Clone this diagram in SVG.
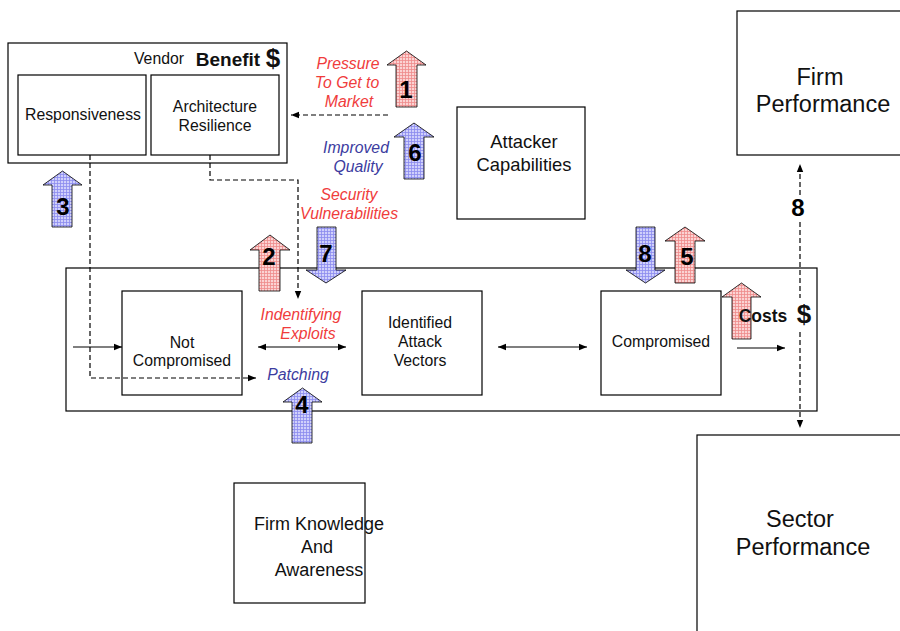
<svg xmlns="http://www.w3.org/2000/svg" width="900" height="631" viewBox="0 0 900 631">
  <defs>
    <pattern id="gridRed" width="3" height="3" patternUnits="userSpaceOnUse">
      <rect width="3" height="3" fill="#fbd3d3"/>
      <path d="M0 0.5H3M0.5 0V3" stroke="#ef8c8c" stroke-width="0.8"/>
    </pattern>
    <pattern id="gridBlue" width="3" height="3" patternUnits="userSpaceOnUse">
      <rect width="3" height="3" fill="#d0d0fb"/>
      <path d="M0 0.5H3M0.5 0V3" stroke="#8c8cef" stroke-width="0.8"/>
    </pattern>
    <marker id="ah" viewBox="0 0 10 10" refX="10" refY="5" markerWidth="8" markerHeight="8" markerUnits="userSpaceOnUse" orient="auto-start-reverse">
      <path d="M0 1L10 5L0 9Z" fill="#000"/>
    </marker>
  </defs>
  <style>
    .box { fill: #fff; stroke: #000; stroke-width: 1.2; }
    .frame { fill: none; stroke: #000; stroke-width: 1.2; }
    .t { font-family: "Liberation Sans", Arial, sans-serif; fill: #111; text-anchor: middle; }
    .red { font-family: "Liberation Sans", Arial, sans-serif; fill: #f03c3c; font-style: italic; font-size: 15.8px; text-anchor: middle; }
    .blue { font-family: "Liberation Sans", Arial, sans-serif; fill: #3c3ca0; font-style: italic; font-size: 15.8px; text-anchor: middle; }
    .num { font-family: "Liberation Sans", Arial, sans-serif; font-weight: bold; font-size: 24px; fill: #000; text-anchor: middle; }
    .ra { fill: url(#gridRed); stroke: #000; stroke-width: 0.8; }
    .ba { fill: url(#gridBlue); stroke: #000; stroke-width: 0.8; }
    .solid { stroke: #000; stroke-width: 1.2; fill: none; }
    .dash { stroke: #000; stroke-width: 1.2; fill: none; stroke-dasharray: 5 3; }
  </style>

  <!-- process frame -->
  <rect id="process-frame" class="frame" x="66" y="268" width="751" height="143"/>

  <g id="vendor">
    <rect class="box" x="8" y="43" width="279" height="120"/>
    <text class="t" x="159" y="64" font-size="15.8">Vendor</text>
    <text class="t" x="228" y="66" font-size="19" font-weight="bold">Benefit</text>
    <text class="t" x="273" y="67" font-size="26" font-weight="bold">$</text>
  </g>
  <g id="responsiveness">
    <rect class="box" x="18" y="75" width="128" height="80"/>
    <text class="t" x="83" y="120" font-size="15.8">Responsiveness</text>
  </g>
  <g id="architecture">
    <rect class="box" x="151" y="75" width="128" height="80"/>
    <text class="t" x="215" y="112" font-size="15.8">Architecture</text>
    <text class="t" x="215" y="131" font-size="15.8">Resilience</text>
  </g>
  <g id="attacker">
    <rect class="box" x="457" y="107" width="128" height="112"/>
    <text class="t" x="524" y="148" font-size="18.4">Attacker</text>
    <text class="t" x="524" y="171" font-size="18.4">Capabilities</text>
  </g>
  <g id="firm-performance">
    <rect class="box" x="737" y="11" width="170" height="144"/>
    <text class="t" x="820" y="85" font-size="23.5">Firm</text>
    <text class="t" x="823" y="112" font-size="23.5">Performance</text>
  </g>
  <g id="not-compromised">
    <rect class="box" x="122" y="291" width="120" height="104"/>
    <text class="t" x="182" y="348" font-size="15.8">Not</text>
    <text class="t" x="182" y="366" font-size="15.8">Compromised</text>
  </g>
  <g id="attack-vectors">
    <rect class="box" x="362" y="291" width="120" height="104"/>
    <text class="t" x="420" y="328" font-size="15.8">Identified</text>
    <text class="t" x="420" y="347" font-size="15.8">Attack</text>
    <text class="t" x="420" y="366" font-size="15.8">Vectors</text>
  </g>
  <g id="compromised">
    <rect class="box" x="601" y="291" width="120" height="104"/>
    <text class="t" x="661" y="347" font-size="15.8">Compromised</text>
  </g>
  <g id="firm-knowledge">
    <rect class="box" x="234" y="483" width="131" height="120"/>
    <text class="t" x="319" y="530" font-size="18">Firm Knowledge</text>
    <text class="t" x="317" y="553" font-size="18">And</text>
    <text class="t" x="319" y="576" font-size="18">Awareness</text>
  </g>
  <g id="sector-performance">
    <rect class="box" x="697" y="435" width="210" height="200"/>
    <text class="t" x="800" y="527" font-size="23.5">Sector</text>
    <text class="t" x="803" y="555" font-size="23.5">Performance</text>
  </g>

  <!-- labels -->
  <g id="labels">
    <text class="red" x="348" y="69">Pressure</text>
    <text class="red" x="347" y="88">To Get to</text>
    <text class="red" x="349" y="107">Market</text>
    <text class="blue" x="356" y="153">Improved</text>
    <text class="blue" x="358" y="172">Quality</text>
    <text class="red" x="349" y="200">Security</text>
    <text class="red" x="349" y="219">Vulnerabilities</text>
    <text class="red" x="301" y="320">Indentifying</text>
    <text class="red" x="308" y="339">Exploits</text>
    <text class="blue" x="298" y="380">Patching</text>
  </g>

  <!-- connectors -->
  <g id="connectors">
    <line class="dash" x1="388" y1="115" x2="291" y2="115" marker-end="url(#ah)"/>
    <polyline class="dash" points="90,155 90,378 256,378" marker-end="url(#ah)"/>
    <polyline class="dash" points="210,155 210,180 298,180 298,299" marker-end="url(#ah)"/>
    <line class="solid" x1="73" y1="347" x2="122" y2="347" marker-end="url(#ah)"/>
    <line class="solid" x1="258" y1="347" x2="346" y2="347" marker-start="url(#ah)" marker-end="url(#ah)"/>
    <line class="solid" x1="498" y1="347" x2="587" y2="347" marker-start="url(#ah)" marker-end="url(#ah)"/>
    <line class="solid" x1="737" y1="348" x2="785" y2="348" marker-end="url(#ah)"/>
    <line class="dash" x1="800" y1="195" x2="800" y2="164" marker-end="url(#ah)"/>
    <line class="dash" x1="800" y1="222" x2="800" y2="298"/>
    <line class="dash" x1="800" y1="332" x2="800" y2="428" marker-end="url(#ah)"/>
  </g>

  <!-- impact arrows -->
  <g id="arrow-1">
    <path class="ra" d="M396 107V65H387L406.5 51L426 65H417V107Z"/>
    <text class="num" x="406" y="98">1</text>
  </g>
  <g id="arrow-6">
    <path class="ba" d="M404 179V137H394L414 123L434 137H424V179Z"/>
    <text class="num" x="415" y="161">6</text>
  </g>
  <g id="arrow-3">
    <path class="ba" d="M52 227V185H43L62.5 171L82 185H72V227Z"/>
    <text class="num" x="63" y="215">3</text>
  </g>
  <g id="arrow-2">
    <path class="ra" d="M259 291V250H250L270 235L290 250H280V291Z"/>
    <text class="num" x="269" y="265">2</text>
  </g>
  <g id="arrow-7">
    <path class="ba" d="M317 227V270H306L326 283L346 270H336V227Z"/>
    <text class="num" x="326" y="262">7</text>
  </g>
  <g id="arrow-4">
    <path class="ba" d="M292 443V402H283L302.5 388L322 402H312V443Z"/>
    <text class="num" x="302" y="413">4</text>
  </g>
  <g id="arrow-8">
    <path class="ba" d="M636 227V270H626L645.5 283L665 270H655V227Z"/>
    <text class="num" x="645" y="262">8</text>
  </g>
  <g id="arrow-5">
    <path class="ra" d="M675 283V241H665L685 227L705 241H695V283Z"/>
    <text class="num" x="687" y="265">5</text>
  </g>
  <g id="arrow-costs">
    <path class="ra" d="M732 339V297H722L741.5 283L761 297H751V339Z"/>
  </g>

  <g id="costs">
    <text class="t" x="763" y="322" font-size="17.5" font-weight="bold">Costs</text>
    <text class="t" x="804" y="323" font-size="26" font-weight="bold">$</text>
  </g>
  <text class="num" x="798" y="216">8</text>
</svg>
